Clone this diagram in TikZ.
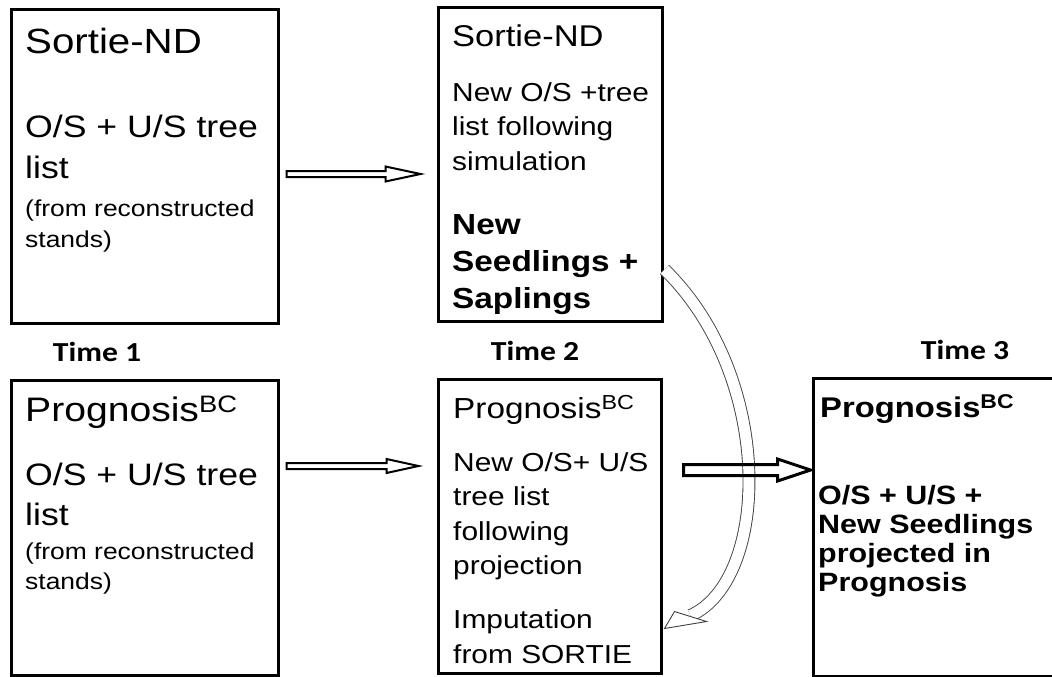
\documentclass[tikz,border=0pt]{standalone}
\usepackage{fontspec}
\setmainfont{Liberation Sans}[FakeStretch=1.15]
\newfontfamily\timefont{Carlito}[FakeStretch=1.15]
\usetikzlibrary{calc}

\newcommand{\setfs}[2]{\fontsize{#1}{#2}\selectfont}
% hollow block arrow: start, tip, half shaft, half head, head length
\newcommand{\blockarrow}[6][]{%
  \draw[#1] let \p1=(#2), \p2=(#3) in
    (\x1,{\y1+#4}) -- ({\x2-#6},{\y1+#4}) -- ({\x2-#6},{\y1+#5}) -- (\x2,\y1)
    -- ({\x2-#6},{\y1-#5}) -- ({\x2-#6},{\y1-#4}) -- (\x1,{\y1-#4}) -- cycle;}

\tikzset{
  stagebox/.style={draw, line width=3pt, inner sep=0pt},
  boxtext/.style={anchor=north west, inner sep=0pt, align=left},
  timelabel/.style={font=\timefont\bfseries\setfs{27.5}{30}},
  flowarrow/.style={line width=2pt, line join=miter},
}

\begin{document}
\begin{tikzpicture}[x=1pt, y=-1pt]
  \useasboundingbox (0,0) rectangle (1052,677);
  \clip (0,0) rectangle (1052,677);

  % stage boxes
  \node[stagebox, minimum width=267pt, minimum height=313pt] (sortie1) at (144.5,166.5) {};
  \node[stagebox, minimum width=224pt, minimum height=313pt] (sortie2) at (550,164.5) {};
  \node[stagebox, minimum width=267pt, minimum height=295pt] (prog1) at (144.5,527.5) {};
  \node[stagebox, minimum width=223pt, minimum height=294pt] (prog2) at (549.5,526) {};
  \node[stagebox, minimum width=257pt, minimum height=298pt] (prog3) at (941.5,527) {};

  % Sortie-ND, time 1
  \node[boxtext, font=\setfs{35}{40}] (sortie1title) at (25,28) {Sortie-ND};
  \node[boxtext, font=\setfs{31}{41}] (sortie1list) at (25,115) {O/S + U/S tree\\list};
  \node[boxtext, font=\setfs{23}{31}] (sortie1note) at (25,200) {(from reconstructed\\stands)};

  % Sortie-ND, time 2
  \node[boxtext, font=\setfs{30}{34}] (sortie2title) at (452,25) {Sortie-ND};
  \node[boxtext, font=\setfs{26}{34.5}] (sortie2list) at (452,82) {New O/S +tree\\list following\\simulation};
  \node[boxtext, font=\bfseries\setfs{29}{37}] (sortie2seed) at (452,214) {New\\Seedlings +\\Saplings};

  % Prognosis, time 1
  \node[boxtext, font=\setfs{34}{40}] (prog1title) at (25,396) {Prognosis\textsuperscript{BC}};
  \node[boxtext, font=\setfs{31}{40}] (prog1list) at (25,463) {O/S + U/S tree\\list};
  \node[boxtext, font=\setfs{23}{30}] (prog1note) at (25,543) {(from reconstructed\\stands)};

  % Prognosis, time 2
  \node[boxtext, font=\setfs{29}{34}] (prog2title) at (453,395) {Prognosis\textsuperscript{BC}};
  \node[boxtext, font=\setfs{26}{34.5}] (prog2list) at (453,452) {New O/S+ U/S\\tree list\\following\\projection};
  \node[boxtext, font=\setfs{26}{35}] (prog2imp) at (453,609) {Imputation\\from SORTIE};

  % Prognosis, time 3
  \node[boxtext, font=\bfseries\setfs{28.5}{32}] (prog3title) at (820,394) {Prognosis\textsuperscript{BC}};
  \node[boxtext, font=\bfseries\setfs{26.5}{29}] (prog3list) at (818,485) {O/S + U/S +\\New Seedlings\\projected in\\Prognosis};

  % time labels
  \node[timelabel] (time1) at (97,352) {Time 1};
  \node[timelabel] (time2) at (535,351) {Time 2};
  \node[timelabel] (time3) at (965,350) {Time 3};

  % seedlings handed over from Sortie to Prognosis
  \coordinate (curvestart) at ($(sortie2.south east)+(1,-53)$);
  \coordinate (curvetip) at ($(prog2.south east)+(2,-46)$);
  \coordinate (curveend) at ($(curvetip)+(26,-13)$);
  \draw[black!75, line width=0.9pt, double=white, double distance=11pt]
    (curvestart) .. controls +(110,107) and +(80,-36) .. (curveend);
  \draw[black!75, line width=0.9pt, fill=white, line join=miter]
    ($(curvetip)+(10,-17)$) -- (curvetip) -- ($(curvetip)+(42,-7)$) -- cycle;

  % block arrows between stages
  \coordinate (a1s) at ($(sortie1.east)+(7,7.5)$);
  \coordinate (a1t) at ($(a1s -| sortie2.west)+(-16,0)$);
  \blockarrow[flowarrow]{a1s}{a1t}{3pt}{7.5pt}{35pt}
  \coordinate (a2s) at ($(prog1.east)+(7,-61.5)$);
  \coordinate (a2t) at ($(a2s -| prog2.west)+(-18,0)$);
  \blockarrow[flowarrow]{a2s}{a2t}{3pt}{7pt}{32pt}
  \coordinate (a3s) at ($(prog2.east)+(21,-56)$);
  \coordinate (a3t) at ($(a3s -| prog3.west)+(-1,0)$);
  \blockarrow[flowarrow, line width=3pt]{a3s}{a3t}{5.5pt}{11pt}{33pt}
\end{tikzpicture}
\end{document}
